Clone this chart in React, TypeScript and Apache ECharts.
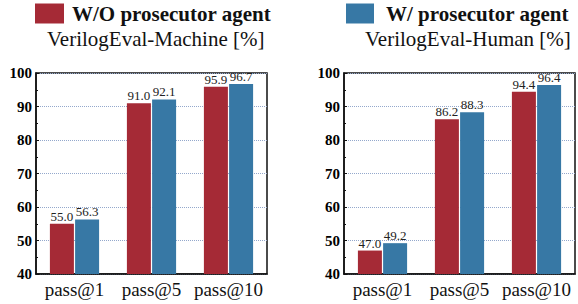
import React, { useEffect, useRef } from "react";
import * as echarts from "echarts";

const categories = ["pass@1", "pass@5", "pass@10"];
const machineWithout = [55.0, 91.0, 95.9];
const machineWith = [56.3, 92.1, 96.7];
const humanWithout = [47.0, 86.2, 94.4];
const humanWith = [49.2, 88.3, 96.4];
const seriesNames = ["W/O prosecutor agent", "W/ prosecutor agent"];
const subtitles = ["VerilogEval-Machine [%]", "VerilogEval-Human [%]"];

const RED = "#A52A36";
const BLUE = "#3778A5";
const FONT = "Liberation Serif";

export default function App() {
  const ref = useRef<HTMLDivElement>(null);
  useEffect(() => {
    if (!ref.current) return;
    const chart = echarts.init(ref.current, undefined, { renderer: "svg" });
    const grids = [
      { left: 36, top: 73, width: 231, height: 201 },
      { left: 344, top: 73, width: 231, height: 201 },
    ];
    const xAxis = grids.map((_, i) => ({
      type: "category" as const,
      gridIndex: i,
      data: categories,
      axisLine: { show: true, lineStyle: { color: "#111", width: 1.5 } },
      axisTick: { show: false },
      axisLabel: {
        interval: 0,
        margin: 6,
        formatter: (v: string) => `{c|${v}}`,
        rich: { c: { fontFamily: FONT, fontSize: 19, color: "#111", fontWeight: "normal" } },
      },
    }));
    const yAxis = grids.map((_, i) => ({
      type: "value" as const,
      gridIndex: i,
      min: 40,
      max: 100,
      interval: 10,
      axisLine: { show: true, lineStyle: { color: "#111", width: 1.5 } },
      axisTick: { show: true, inside: true, length: 3, lineStyle: { color: "#111" } },
      minorTick: { show: true, splitNumber: 2, length: 2, lineStyle: { color: "#111" } },
      axisLabel: {
        margin: 4,
        formatter: (v: number) => `{v|${v}}`,
        rich: { v: { fontFamily: FONT, fontSize: 15, fontWeight: "bold", color: "#000" } },
      },
      splitLine: { show: true, lineStyle: { color: "#94A8CC", type: "dotted", width: 1 } },
    }));
    const mkSeries = (name: string, data: number[], color: string, idx: number) => ({
      type: "bar" as const,
      name,
      xAxisIndex: idx,
      yAxisIndex: idx,
      data,
      barWidth: 24,
      barGap: "5%",
      itemStyle: { color },
      label: {
        show: true,
        position: "top" as const,
        distance: 1,
        fontFamily: FONT,
        fontSize: 13,
        color: "#222",
        formatter: (p: any) => Number(p.value).toFixed(1),
      },
    });
    chart.setOption({
      animation: false,
      backgroundColor: "#fff",
      textStyle: { fontFamily: FONT },
      grid: grids.map((g) => ({ ...g, show: true, borderColor: "#111", borderWidth: 1.5, backgroundColor: "transparent" })),
      xAxis,
      yAxis,
      title: [
        { text: subtitles[0], left: 47, top: 28, padding: 0, textStyle: { fontFamily: FONT, fontSize: 21, fontWeight: "normal", color: "#111" } },
        { text: subtitles[1], left: 365, top: 28, padding: 0, textStyle: { fontFamily: FONT, fontSize: 21, fontWeight: "normal", color: "#111" } },
      ],
      legend: [
        {
          data: [seriesNames[0]],
          left: 35,
          top: 3,
          padding: 0,
          itemWidth: 29,
          itemHeight: 20,
          icon: "rect",
          textStyle: { fontFamily: FONT, fontSize: 21, fontWeight: "bold", color: "#111", padding: [0, 0, 0, 3] },
        },
        {
          data: [seriesNames[1]],
          left: 346,
          top: 3,
          padding: 0,
          itemWidth: 28,
          itemHeight: 20,
          icon: "rect",
          textStyle: { fontFamily: FONT, fontSize: 21, fontWeight: "bold", color: "#111", padding: [0, 0, 0, 7] },
        },
      ],
      series: [
        mkSeries(seriesNames[0], machineWithout, RED, 0),
        mkSeries(seriesNames[1], machineWith, BLUE, 0),
        mkSeries(seriesNames[0], humanWithout, RED, 1),
        mkSeries(seriesNames[1], humanWith, BLUE, 1),
      ],
    });
    return () => chart.dispose();
  }, []);
  return (
    <div
      ref={ref}
      style={{ position: "absolute", left: 0, top: 0, width: 578, height: 304, background: "#fff" }}
    />
  );
}
